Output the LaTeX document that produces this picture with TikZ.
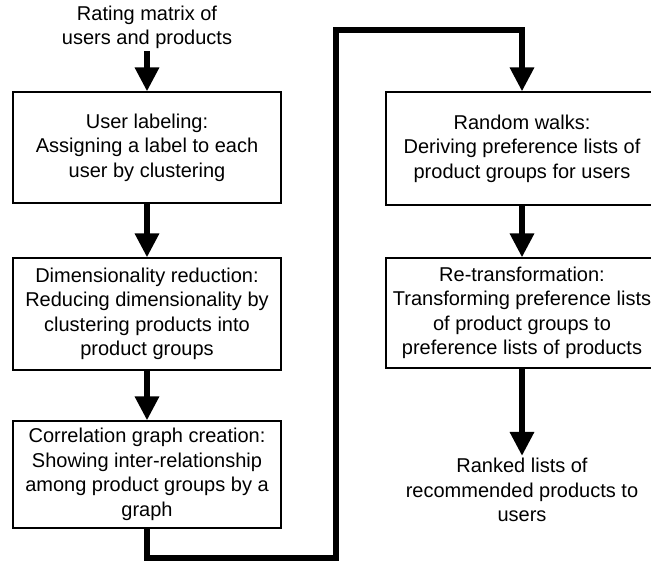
\documentclass[tikz,border=0pt]{standalone}
\usepackage{fontspec}
\setmainfont{Liberation Sans}
\usetikzlibrary{arrows.meta}
\begin{document}
\begin{tikzpicture}[x=1pt,y=-1pt,
  stage/.style={draw=black, line width=1.1pt, align=center, inner sep=0pt,
    font=\fontsize{20}{24.5}\selectfont},
  plain/.style={align=center, inner sep=2pt, font=\fontsize{20}{24.5}\selectfont},
  flow/.style={line width=6.5pt, line join=miter, -{Triangle[width=23pt,length=24pt]}}]
\useasboundingbox (0,0) rectangle (651,562);
\clip (0,0) rectangle (651,562);

% left column
\node[plain] (src) at (147,27.5) {Rating matrix of\\users and products};
\node[stage, minimum width=268pt, minimum height=111pt] (lab) at (147,147.5)
  {User labeling:\\Assigning a label to each\\user by clustering};
\node[stage, minimum width=268pt, minimum height=112pt] (dim) at (147,314)
  {Dimensionality reduction:\\Reducing dimensionality by\\clustering products into\\product groups};
\node[stage, minimum width=268pt, minimum height=107pt] (cor) at (147,474.5)
  {Correlation graph creation:\\Showing inter-relationship\\among product groups by a\\graph};

% right column
\node[stage, minimum width=272pt, minimum height=113pt] (walk) at (522,148.5)
  {Random walks:\\Deriving preference lists of\\product groups for users};
\node[stage, minimum width=272pt, minimum height=110pt] (ret) at (522,313)
  {Re-transformation:\\Transforming preference lists\\of product groups to\\preference lists of products};
\node[plain] (out) at (522,490) {Ranked lists of\\recommended products to\\users};

% connectors
\coordinate (c1) at (147,558);
\coordinate (c2) at (336,558);
\coordinate (c3) at (336,30);
\coordinate (c4) at (522,30);

\draw[flow] (src.south) -- (lab.north);
\draw[flow] (lab.south) -- (dim.north);
\draw[flow] (dim.south) -- (cor.north);
\draw[flow] (cor.south) -- (c1) -- (c2) -- (c3) -- (c4) -- (walk.north);
\draw[flow] (walk.south) -- (ret.north);
\draw[flow] (ret.south) -- (out.north);
\end{tikzpicture}
\end{document}
